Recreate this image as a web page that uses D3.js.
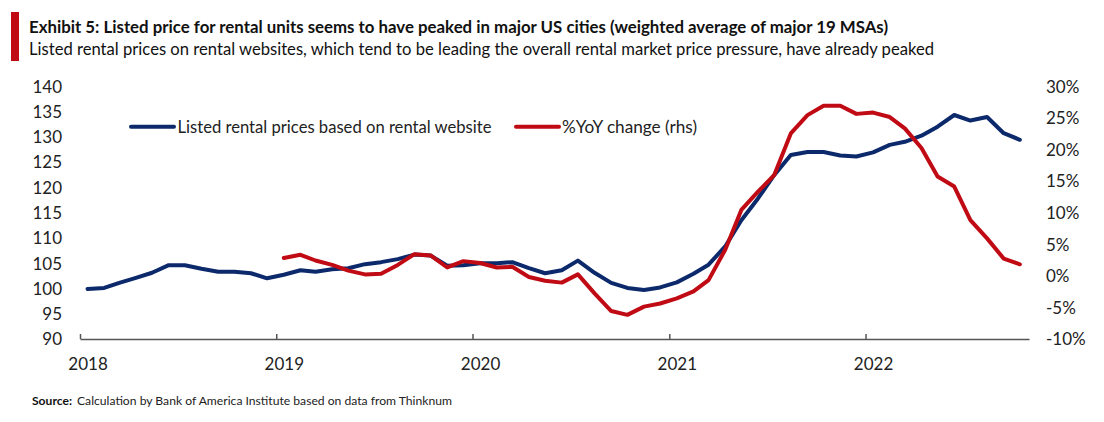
<!DOCTYPE html>
<html>
<head>
<meta charset="utf-8">
<script src="https://cdn.jsdelivr.net/npm/d3@7"></script>
<style>
  body { margin: 0; background: #fff; }
  svg { display: block; font-family: Lato, "Open Sans", sans-serif; }
</style>
</head>
<body>
<div id="chart"></div>
<script>
// monthly observations, Jan 2018 - Oct 2022
const months = [
  "2018-01","2018-02","2018-03","2018-04","2018-05","2018-06","2018-07","2018-08","2018-09","2018-10","2018-11","2018-12",
  "2019-01","2019-02","2019-03","2019-04","2019-05","2019-06","2019-07","2019-08","2019-09","2019-10","2019-11","2019-12",
  "2020-01","2020-02","2020-03","2020-04","2020-05","2020-06","2020-07","2020-08","2020-09","2020-10","2020-11","2020-12",
  "2021-01","2021-02","2021-03","2021-04","2021-05","2021-06","2021-07","2021-08","2021-09","2021-10","2021-11","2021-12",
  "2022-01","2022-02","2022-03","2022-04","2022-05","2022-06","2022-07","2022-08","2022-09","2022-10"
];

// index, lhs
const listedPrice = [
  100.0,100.2,101.2,102.2,103.2,104.7,104.7,104.0,103.4,103.4,103.1,102.1,
  102.8,103.7,103.4,103.9,104.1,104.9,105.3,105.9,106.8,106.6,104.6,104.7,
  105.1,105.1,105.3,104.1,103.1,103.7,105.6,103.2,101.2,100.2,99.8,100.3,
  101.3,103.0,104.8,108.4,113.6,117.9,122.5,126.5,127.1,127.1,126.4,126.2,
  127.0,128.5,129.1,130.3,132.1,134.4,133.3,134.0,130.8,129.5
];

// %YoY, rhs (no value for the first year)
const yoyChange = [
  null,null,null,null,null,null,null,null,null,null,null,null,
  2.9,3.4,2.5,1.8,0.9,0.3,0.4,1.8,3.5,3.3,1.4,2.4,
  2.1,1.4,1.5,-0.1,-0.7,-1.0,0.3,-2.7,-5.5,-6.1,-4.8,-4.3,
  -3.5,-2.4,-0.6,4.2,10.5,13.4,16.0,22.6,25.5,27.0,27.0,25.7,
  25.9,25.2,23.4,20.3,15.8,14.2,8.9,6.0,2.8,1.9
];

const leftTicks = [90,95,100,105,110,115,120,125,130,135,140];
const rightTicks = [-10,-5,0,5,10,15,20,25,30];
const yearLabels = ["2018","2019","2020","2021","2022"];

const seriesNames = ["Listed rental prices based on rental website", "%YoY change (rhs)"];
const titleText = "Exhibit 5: Listed price for rental units seems to have peaked in major US cities (weighted average of major 19 MSAs)";
const subtitleText = "Listed rental prices on rental websites, which tend to be leading the overall rental market price pressure, have already peaked";
const sourceText = "Calculation by Bank of America Institute based on data from Thinknum";

const width = 1104, height = 422;
const blue = "#0c2a6b", red = "#c00a14";

const svg = d3.select("#chart").append("svg")
  .attr("width", width)
  .attr("height", height);

// header
svg.append("rect").attr("x", 11).attr("y", 12).attr("width", 8).attr("height", 49).attr("fill", "#c00a14");
svg.append("text").attr("x", 29).attr("y", 33)
  .attr("font-size", 17).attr("font-weight", "bold").attr("fill", "#111")
  .attr("textLength", 859).attr("lengthAdjust", "spacingAndGlyphs")
  .text(titleText);
svg.append("text").attr("x", 29).attr("y", 55)
  .attr("font-size", 17).attr("fill", "#111")
  .attr("textLength", 905).attr("lengthAdjust", "spacingAndGlyphs")
  .text(subtitleText);

const parse = d3.timeParse("%Y-%m");
const data = months.map((m, i) => {
  const d = parse(m);
  return { date: new Date(d.getFullYear(), d.getMonth(), 15), price: listedPrice[i], yoy: yoyChange[i] };
});

const x = d3.scaleTime()
  .domain([new Date(2018, 0, 1), new Date(2022, 10, 1)])
  .range([80, 1029]);

const yL = d3.scaleLinear().domain([90, 140]).range([339.5, 86.7]);
const yR = d3.scaleLinear().domain([-10, 30]).range([339.5, 86.7]);

// left axis
const gL = svg.append("g")
  .attr("transform", "translate(62,0)")
  .call(d3.axisLeft(yL).tickValues(leftTicks).tickSize(0).tickPadding(0));
gL.select(".domain").remove();
gL.selectAll("text").attr("font-size", 17).attr("fill", "#222").attr("font-family", "Lato");

// right axis
const gR = svg.append("g")
  .attr("transform", "translate(1046,0)")
  .call(d3.axisRight(yR).tickValues(rightTicks).tickSize(0).tickPadding(0).tickFormat(d => d + "%"));
gR.select(".domain").remove();
gR.selectAll("text").attr("font-size", 17).attr("fill", "#222").attr("font-family", "Lato");

// x axis: ticks at year boundaries, labels on the January point
const yearStarts = yearLabels.map(y => new Date(+y, 0, 1));
const labelShift = x(new Date(2018, 0, 15)) - x(new Date(2018, 0, 1));
const gX = svg.append("g")
  .attr("transform", "translate(0,339)")
  .call(d3.axisBottom(x).tickValues(yearStarts).tickSizeInner(-5).tickSizeOuter(0)
    .tickFormat((d, i) => yearLabels[i]));
gX.select(".domain").attr("stroke", "#555").attr("stroke-width", 1.5);
gX.selectAll(".tick line").attr("stroke", "#555").attr("stroke-width", 1.5);
gX.selectAll("text")
  .attr("x", labelShift).attr("y", 31).attr("dy", null)
  .attr("font-size", 17).attr("fill", "#222").attr("font-family", "Lato");

// lines
const priceLine = d3.line().x(d => x(d.date)).y(d => yL(d.price));
const yoyLine = d3.line().defined(d => d.yoy !== null).x(d => x(d.date)).y(d => yR(d.yoy));

svg.append("path").datum(data)
  .attr("d", priceLine)
  .attr("fill", "none").attr("stroke", blue).attr("stroke-width", 4)
  .attr("stroke-linejoin", "round").attr("stroke-linecap", "round");

svg.append("path").datum(data)
  .attr("d", yoyLine)
  .attr("fill", "none").attr("stroke", red).attr("stroke-width", 4)
  .attr("stroke-linejoin", "round").attr("stroke-linecap", "round");

// legend
const legend = [
  { name: seriesNames[0], color: blue, x1: 131, x2: 174, tx: 177.5, len: 314 },
  { name: seriesNames[1], color: red, x1: 516, x2: 559, tx: 562, len: 135 }
];
const lg = svg.append("g").attr("class", "legend");
lg.selectAll("line").data(legend).enter().append("line")
  .attr("x1", d => d.x1).attr("x2", d => d.x2)
  .attr("y1", 126.7).attr("y2", 126.7)
  .attr("stroke", d => d.color).attr("stroke-width", 4).attr("stroke-linecap", "round");
lg.selectAll("text").data(legend).enter().append("text")
  .attr("x", d => d.tx).attr("y", 132.5)
  .attr("font-size", 17).attr("fill", "#222")
  .attr("textLength", d => d.len).attr("lengthAdjust", "spacingAndGlyphs")
  .text(d => d.name);

// source
svg.append("text").attr("x", 32).attr("y", 405)
  .attr("font-size", 12).attr("font-weight", "bold").attr("fill", "#111")
  .attr("textLength", 40).attr("lengthAdjust", "spacingAndGlyphs")
  .text("Source:");
svg.append("text").attr("x", 77).attr("y", 405)
  .attr("font-size", 12).attr("fill", "#222")
  .attr("textLength", 375).attr("lengthAdjust", "spacingAndGlyphs")
  .text(sourceText);
</script>
</body>
</html>
